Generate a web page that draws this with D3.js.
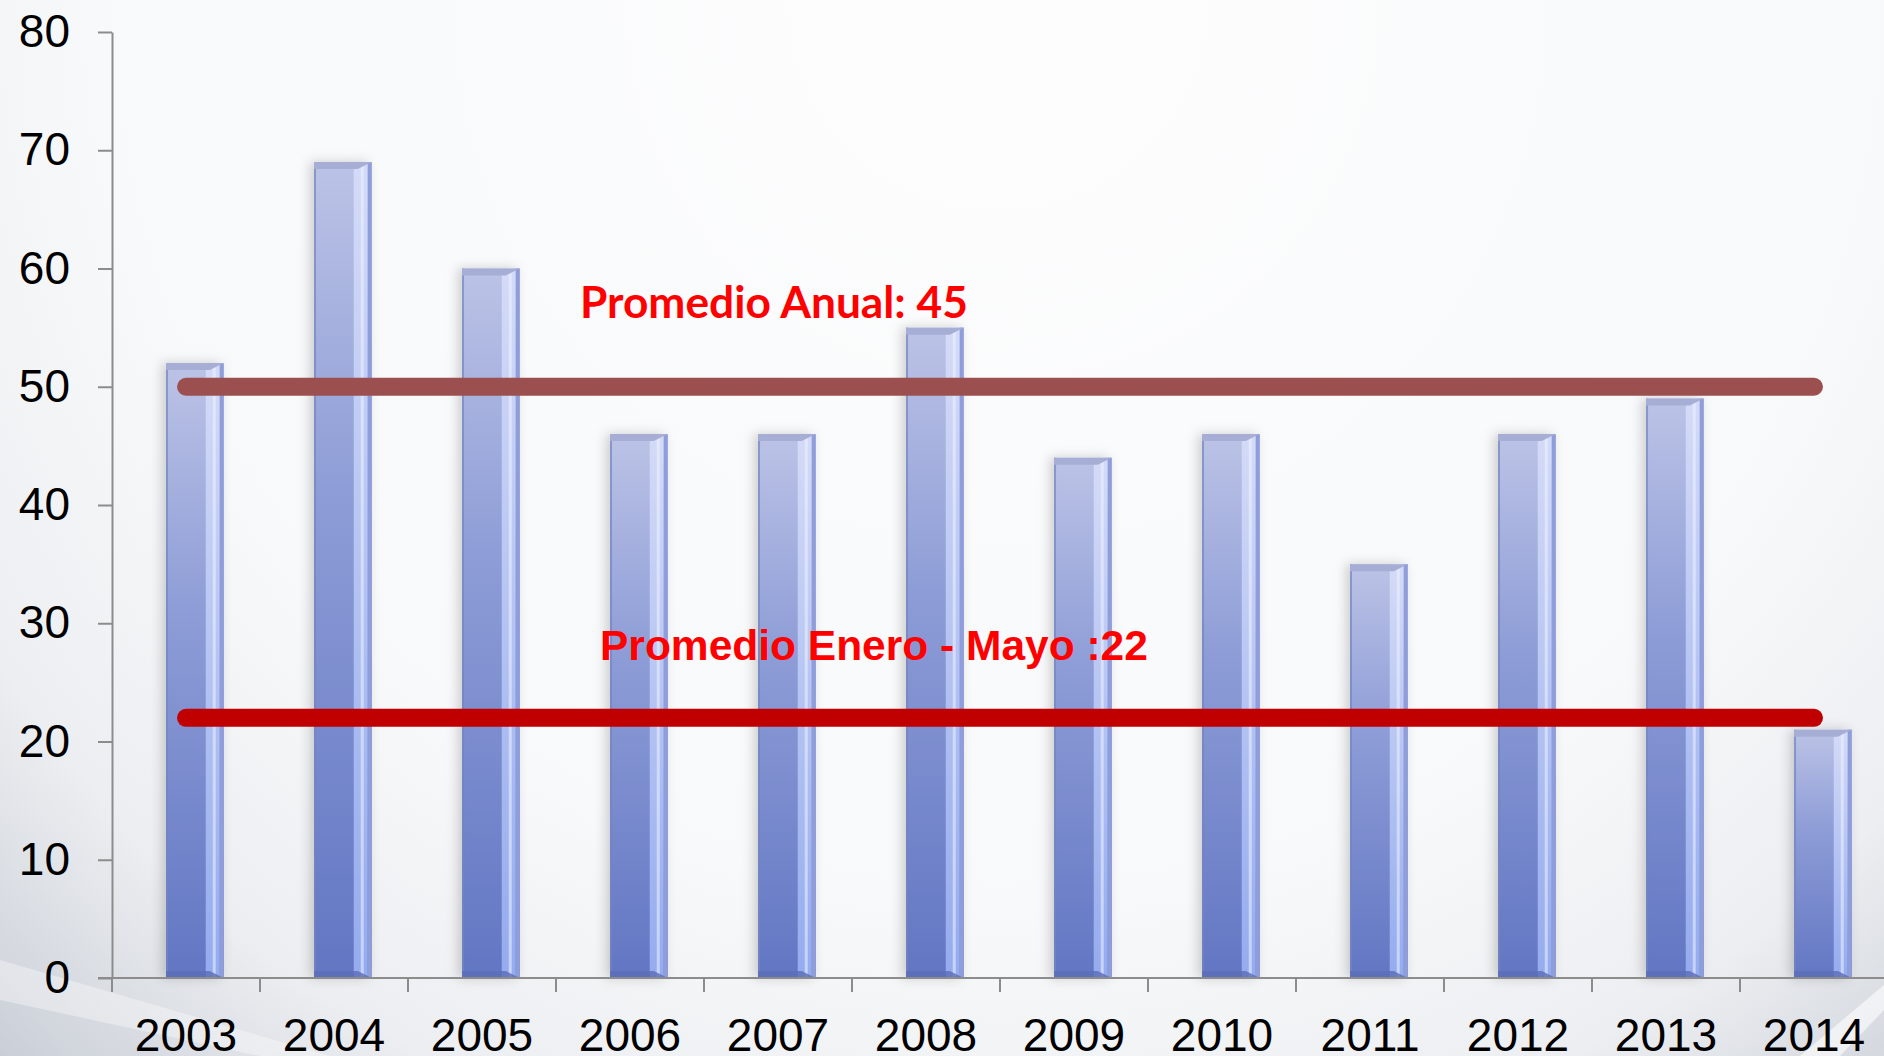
<!DOCTYPE html>
<html>
<head>
<meta charset="utf-8">
<script src="https://cdn.jsdelivr.net/npm/d3@7"></script>
<style>
  html, body { margin: 0; padding: 0; overflow: hidden; }
  svg { display: block; }
</style>
</head>
<body>
<svg id="chart" width="1884" height="1056"></svg>
<script>
// chart data
var years = ["2003", "2004", "2005", "2006", "2007", "2008", "2009", "2010", "2011", "2012", "2013", "2014"];
var values = [52, 69, 60, 46, 46, 55, 44, 46, 35, 46, 49, 21];
var yTicks = [0, 10, 20, 30, 40, 50, 60, 70, 80];
var avgValues = [50, 22];
var avgLabels = ["Promedio Anual: 45", "Promedio Enero - Mayo :22"];
var avgColors = ["#9C4F4F", "#C00000"];

var svg = d3.select("#chart");
var width = +svg.attr("width");
var height = +svg.attr("height");

var defs = svg.append("defs");

// background: near white at the top, greyer towards the bottom corners
var bg = defs.append("radialGradient").attr("id", "bgGrad")
    .attr("gradientUnits", "userSpaceOnUse")
    .attr("cx", 1000).attr("cy", 0).attr("r", 1500);
bg.append("stop").attr("offset", 0).attr("stop-color", "#FDFDFE");
bg.append("stop").attr("offset", 0.6).attr("stop-color", "#F8F9FA");
bg.append("stop").attr("offset", 0.8).attr("stop-color", "#ECEEF1");
bg.append("stop").attr("offset", 1).attr("stop-color", "#C4C9D2");

// bar face
var barGrad = defs.append("linearGradient").attr("id", "barGrad")
    .attr("x1", 0).attr("y1", 0).attr("x2", 0).attr("y2", 1);
barGrad.append("stop").attr("offset", 0).attr("stop-color", "#BCC3E6");
barGrad.append("stop").attr("offset", 0.4).attr("stop-color", "#8E9DD7");
barGrad.append("stop").attr("offset", 1).attr("stop-color", "#6276C3");

// lit right side of the bar
var stripGrad = defs.append("linearGradient").attr("id", "stripGrad")
    .attr("x1", 0).attr("y1", 0).attr("x2", 0).attr("y2", 1);
stripGrad.append("stop").attr("offset", 0).attr("stop-color", "#D4DBF7");
stripGrad.append("stop").attr("offset", 1).attr("stop-color", "#94ABEE");

var shadow = defs.append("filter").attr("id", "barShadow")
    .attr("x", "-50%").attr("y", "-10%").attr("width", "200%").attr("height", "120%");
shadow.append("feDropShadow")
    .attr("dx", -4).attr("dy", 0).attr("stdDeviation", 6)
    .attr("flood-color", "#000").attr("flood-opacity", 0.18);

svg.append("rect")
    .attr("width", width).attr("height", height)
    .attr("fill", "url(#bgGrad)");

// soft diagonal streaks in the corners
svg.append("path")
    .attr("d", "M0,960 L0,1000 L260,1056 L330,1056 Z")
    .attr("fill", "#FFFFFF").attr("opacity", 0.35);
svg.append("path")
    .attr("d", "M1884,985 L1884,1010 L1840,1056 L1800,1056 Z")
    .attr("fill", "#FFFFFF").attr("opacity", 0.6);

// scales
var x = d3.scaleBand()
    .domain(years)
    .range([112, 1888])
    .padding(0);

var y = d3.scaleLinear()
    .domain([0, 80])
    .range([978, 32]);

var bw = x.bandwidth();
var barWidth = bw * 0.39;
var barOffset = bw * 0.365;

// bars
var bars = svg.append("g").selectAll("g")
    .data(values)
    .enter().append("g")
    .attr("transform", function(d, i) {
        return "translate(" + (x(years[i]) + barOffset) + "," + y(d) + ")";
    })
    .attr("filter", "url(#barShadow)");

bars.append("rect")
    .attr("width", barWidth)
    .attr("height", function(d) { return y(0) - y(d); })
    .attr("fill", "url(#barGrad)");

bars.append("rect")
    .attr("x", barWidth - 18).attr("width", 14)
    .attr("height", function(d) { return y(0) - y(d); })
    .attr("fill", "url(#stripGrad)");

bars.append("rect")
    .attr("x", barWidth - 11).attr("width", 3)
    .attr("height", function(d) { return y(0) - y(d); })
    .attr("fill", "#EEF2FF").attr("opacity", 0.55);

bars.append("rect")
    .attr("x", barWidth - 4).attr("width", 4)
    .attr("height", function(d) { return y(0) - y(d); })
    .attr("fill", "#8F9EDB");

bars.append("rect")
    .attr("width", 2)
    .attr("height", function(d) { return y(0) - y(d); })
    .attr("fill", "#7584C0").attr("opacity", 0.7);

// top bevel
bars.append("path")
    .attr("d", "M0,0 L" + barWidth + ",0 L" + (barWidth - 14) + ",7 L0,7 Z")
    .attr("fill", "#A6AED6");

// bottom bevel
bars.append("path")
    .attr("d", function(d) {
        var h = y(0) - y(d);
        return "M0," + h + " L" + barWidth + "," + h + " L" + (barWidth - 14) + "," + (h - 7) + " L0," + (h - 7) + " Z";
    })
    .attr("fill", "#5B6DB8").attr("opacity", 0.8);

// y axis
var yAxis = svg.append("g")
    .attr("transform", "translate(112,0)")
    .call(d3.axisLeft(y).tickValues(yTicks).tickSize(14).tickSizeOuter(0).tickPadding(28));
yAxis.select(".domain").attr("stroke", "#8C8C8C").attr("stroke-width", 2);
yAxis.selectAll(".tick line").attr("stroke", "#8C8C8C").attr("stroke-width", 2);
yAxis.selectAll("text")
    .attr("font-family", "'Liberation Sans', Arial, sans-serif")
    .attr("font-size", 46)
    .attr("fill", "#000");

// x axis: labels in band centres, ticks on band edges
var xAxis = svg.append("g")
    .attr("transform", "translate(0," + y(0) + ")")
    .call(d3.axisBottom(x).tickSize(0).tickPadding(40));
xAxis.select(".domain").remove();
xAxis.selectAll("text")
    .attr("font-family", "'Liberation Sans', Arial, sans-serif")
    .attr("font-size", 46)
    .attr("fill", "#000");

svg.append("line")
    .attr("x1", 98).attr("x2", 1888)
    .attr("y1", y(0)).attr("y2", y(0))
    .attr("stroke", "#8C8C8C").attr("stroke-width", 2);

svg.append("g").selectAll("line")
    .data(years)
    .enter().append("line")
    .attr("x1", function(d) { return x(d); })
    .attr("x2", function(d) { return x(d); })
    .attr("y1", y(0)).attr("y2", y(0) + 14)
    .attr("stroke", "#8C8C8C").attr("stroke-width", 2);

// average lines
svg.append("g").selectAll("line")
    .data(avgValues)
    .enter().append("line")
    .attr("x1", x(years[0]) + bw / 2)
    .attr("x2", x(years[years.length - 1]) + bw / 2)
    .attr("y1", function(d) { return y(d); })
    .attr("y2", function(d) { return y(d); })
    .attr("stroke", function(d, i) { return avgColors[i]; })
    .attr("stroke-width", 18)
    .attr("stroke-linecap", "round");

// labels of the average lines, sized to their span in the picture
var labelPos = [
    { x: 580, y: 318, w: 388, font: "Lato, 'Open Sans', sans-serif" },
    { x: 600, y: 660, w: 548, font: "'Liberation Sans', Arial, sans-serif" }
];

avgLabels.forEach(function(label, i) {
    var p = labelPos[i];
    var t = svg.append("text")
        .attr("x", p.x).attr("y", p.y)
        .attr("font-family", p.font)
        .attr("font-weight", "bold")
        .attr("font-size", 40)
        .attr("fill", "#FF0000")
        .text(label);
    var len = t.node().getComputedTextLength();
    t.attr("font-size", 40 * p.w / len);
});
</script>
</body>
</html>
